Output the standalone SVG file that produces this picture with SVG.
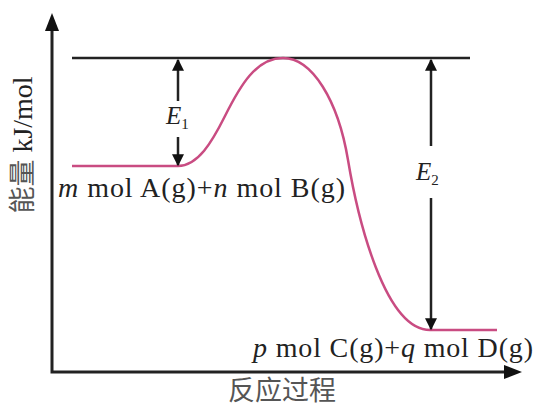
<svg xmlns="http://www.w3.org/2000/svg" width="537" height="407" viewBox="0 0 537 407">
<style>
.ax{stroke:#222;stroke-width:3;fill:none}
.ln{stroke:#222;stroke-width:2.5;fill:none}
.cv{stroke:#c94c82;stroke-width:2.5;fill:none}
.t{font-family:"Liberation Serif","Times New Roman",serif;font-size:28px;fill:#222}
.e{font-family:"Liberation Serif","Times New Roman",serif;font-size:25px;fill:#222;font-style:italic}
.cn{font-family:"Noto Sans CJK SC",sans-serif;font-size:27px;fill:#555}
</style>
<defs>
<marker id="ah" viewBox="0 0 10 10" refX="9" refY="5" markerWidth="14" markerHeight="12" markerUnits="userSpaceOnUse" orient="auto">
<path d="M0,0 L10,5 L0,10 Z" fill="#111"/>
</marker>
</defs>
<g id="axes">
<path class="ax" d="M52,28 V372 H508"/>
<path d="M52,13 L45,31 L59,31 Z" fill="#111"/>
<path d="M522,372 L504,365 L504,379 Z" fill="#111"/>
</g>
<g id="top-line"><line class="ln" x1="72" y1="58" x2="470" y2="58"/></g>
<g id="curve">
<path class="cv" d="M72,166 H178 C198,166 212,142 225,116 C240,86 256,58 283,58 C312,58 338,100 348,160 C358,220 385,330 430,330 H497"/>
</g>
<g id="connectors">
<line class="ln" x1="178" y1="101" x2="178" y2="60" marker-end="url(#ah)"/>
<line class="ln" x1="178" y1="137" x2="178" y2="165" marker-end="url(#ah)"/>
<line class="ln" x1="431" y1="146" x2="431" y2="60" marker-end="url(#ah)"/>
<line class="ln" x1="431" y1="198" x2="431" y2="329" marker-end="url(#ah)"/>
</g>
<g id="labels">
<text class="e" x="166" y="124">E<tspan font-style="normal" font-size="15" dy="5">1</tspan></text>
<text class="e" x="416" y="180">E<tspan font-style="normal" font-size="15" dy="5">2</tspan></text>
<text class="t" x="58" y="197" textLength="287" lengthAdjust="spacing"><tspan font-style="italic">m</tspan> mol A(g)+<tspan font-style="italic">n</tspan> mol B(g)</text>
<text class="t" x="253" y="357" textLength="280" lengthAdjust="spacing"><tspan font-style="italic">p</tspan> mol C(g)+<tspan font-style="italic">q</tspan> mol D(g)</text>
<text class="cn" x="282" y="400" text-anchor="middle" font-size="26">反应过程</text>
<text transform="translate(32,145) rotate(-90)" text-anchor="middle"><tspan class="cn">能量</tspan><tspan class="t" font-size="27"> kJ/mol</tspan></text>
</g>
</svg>
